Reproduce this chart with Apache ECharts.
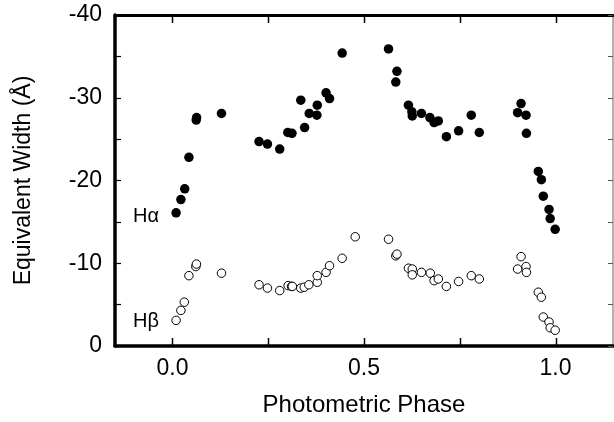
<!DOCTYPE html>
<html>
<head>
<meta charset="utf-8">
<script src="https://cdn.jsdelivr.net/npm/echarts@6/dist/echarts.min.js"></script>
<style>html,body{margin:0;padding:0;background:#fff}#c{width:614px;height:422px}</style>
</head>
<body>
<div id="c"></div>
<script>
// Photometric phase and equivalent width (Å) for H-alpha (filled) and H-beta (open)
const haPhase = [0.0095,0.022,0.032,0.043,0.062,0.063,0.128,0.226,0.248,0.280,0.301,0.312,0.335,0.345,0.357,0.377,0.378,0.401,0.410,0.443,
  0.564,0.583,0.586,0.616,0.625,0.626,0.650,0.672,0.683,0.694,0.715,0.747,0.780,0.801,0.901,0.910,0.923,0.924,0.955,0.963,0.968,0.983,0.986,0.999];
const haEW = [-16.1,-17.7,-19.0,-22.8,-27.3,-27.6,-28.1,-24.7,-24.4,-23.8,-25.8,-25.7,-29.7,-26.4,-28.1,-27.9,-29.1,-30.6,-29.9,-35.4,
  -35.9,-31.9,-33.2,-29.1,-28.3,-27.8,-28.1,-27.6,-27.0,-27.2,-25.3,-26.0,-27.9,-25.8,-28.2,-29.3,-27.9,-25.7,-21.1,-20.1,-18.1,-16.5,-15.4,-14.1];
const hbPhase = [0.0095,0.022,0.031,0.043,0.061,0.0625,0.128,0.226,0.248,0.280,0.302,0.311,0.313,0.335,0.344,0.356,0.378,0.378,0.401,0.410,0.443,0.477,
  0.564,0.583,0.586,0.616,0.626,0.626,0.650,0.673,0.683,0.694,0.715,0.747,0.780,0.801,0.901,0.910,0.923,0.924,0.955,0.963,0.968,0.983,0.986,0.999];
const hbEW = [-3.1,-4.3,-5.3,-8.5,-9.6,-9.9,-8.8,-7.4,-7.0,-6.7,-7.3,-7.2,-7.2,-7.0,-7.1,-7.4,-7.7,-8.5,-8.9,-9.7,-10.6,-13.2,
  -12.9,-10.9,-11.1,-9.4,-9.3,-8.6,-8.9,-8.8,-7.9,-8.1,-7.2,-7.8,-8.5,-8.1,-9.3,-10.8,-9.6,-8.9,-6.5,-5.9,-3.5,-2.9,-2.2,-1.9];
const xTicks = [0, 0.25, 0.5, 0.75, 1.0];
const xLabels = [0, 0.5, 1.0];
const yMin = -40, yMax = 0;
const seriesNames = ['H\u03b1', 'H\u03b2'];

const FONT = '"Liberation Sans", Arial, Helvetica, sans-serif';
const chart = echarts.init(document.getElementById('c'), null, {renderer: 'canvas'});
const zip = (a, b) => a.map((v, i) => [v, b[i]]);

chart.setOption({
  animation: false,
  backgroundColor: '#fff',
  grid: {left: 115, right: 1, top: 15, bottom: 72, containLabel: false},
  xAxis: [{
    type: 'value', min: -0.15, max: 1.15, position: 'bottom',
    name: 'Photometric Phase', nameLocation: 'middle', nameGap: 47,
    nameTextStyle: {fontFamily: FONT, fontSize: 24, color: '#000'},
    axisLine: {show: true, onZero: false, lineStyle: {color: '#000', width: 3.5}},
    axisTick: {show: false},
    axisLabel: {customValues: xLabels, margin: 11, fontFamily: FONT, fontSize: 23, color: '#000',
      formatter: v => v.toFixed(1)},
    splitLine: {show: false}
  }, {
    type: 'value', min: -0.15, max: 1.15, position: 'top',
    axisLine: {show: true, onZero: false, lineStyle: {color: '#000', width: 3}},
    axisTick: {show: false},
    axisLabel: {show: false}, splitLine: {show: false}
  }],
  yAxis: [{
    type: 'value', min: yMin, max: yMax, interval: 5, inverse: true, position: 'left',
    name: 'Equivalent Width (\u00c5)', nameLocation: 'middle', nameGap: 80, nameRotate: 90,
    nameTextStyle: {fontFamily: FONT, fontSize: 23, color: '#000'},
    axisLine: {show: true, onZero: false, lineStyle: {color: '#000', width: 3.5}},
    axisTick: {show: true, inside: true, length: 6, lineStyle: {color: '#000', width: 1.2}},
    axisLabel: {margin: 13, fontFamily: FONT, fontSize: 23, color: '#000',
      formatter: v => (v % 10 === 0 ? String(v) : '')},
    splitLine: {show: false}
  }, {
    type: 'value', min: yMin, max: yMax, interval: 5, inverse: true, position: 'right',
    axisLine: {show: true, onZero: false, lineStyle: {color: '#999', width: 1.5}},
    axisTick: {show: true, inside: true, length: 5, lineStyle: {color: '#555', width: 1}},
    axisLabel: {show: false}, splitLine: {show: false}
  }],
  series: [{
    name: seriesNames[0], type: 'scatter', xAxisIndex: 0, yAxisIndex: 0,
    symbol: 'circle', symbolSize: 9.5,
    itemStyle: {color: '#000', opacity: 1},
    data: zip(haPhase, haEW)
  }, {
    name: seriesNames[1], type: 'scatter', xAxisIndex: 0, yAxisIndex: 0,
    symbol: 'circle', symbolSize: 8.5,
    itemStyle: {color: '#fff', borderColor: '#000', borderWidth: 1, opacity: 1},
    data: zip(hbPhase, hbEW)
  }]
});

// x-side tick marks placed through the library's axis scale
const tickEls = [];
xTicks.forEach(v => {
  const b = chart.convertToPixel({xAxisIndex: 0, yAxisIndex: 0}, [v, yMax]);
  const t = chart.convertToPixel({xAxisIndex: 0, yAxisIndex: 0}, [v, yMin]);
  const x = Math.round(b[0]) + 0.5;
  tickEls.push({type: 'line', z: 100, silent: true,
    shape: {x1: x, y1: b[1], x2: x, y2: b[1] - 8}, style: {stroke: '#000', lineWidth: 1.5}});
  tickEls.push({type: 'line', z: 100, silent: true,
    shape: {x1: x, y1: t[1], x2: x, y2: t[1] + 8}, style: {stroke: '#000', lineWidth: 1.5}});
});
chart.setOption({
  graphic: [
    {type: 'text', left: 133, top: 206, style: {text: seriesNames[0], font: '20px ' + FONT, fill: '#000'}},
    {type: 'text', left: 133, top: 311, style: {text: seriesNames[1], font: '20px ' + FONT, fill: '#000'}}
  ].concat(tickEls)
});
</script>
</body>
</html>
